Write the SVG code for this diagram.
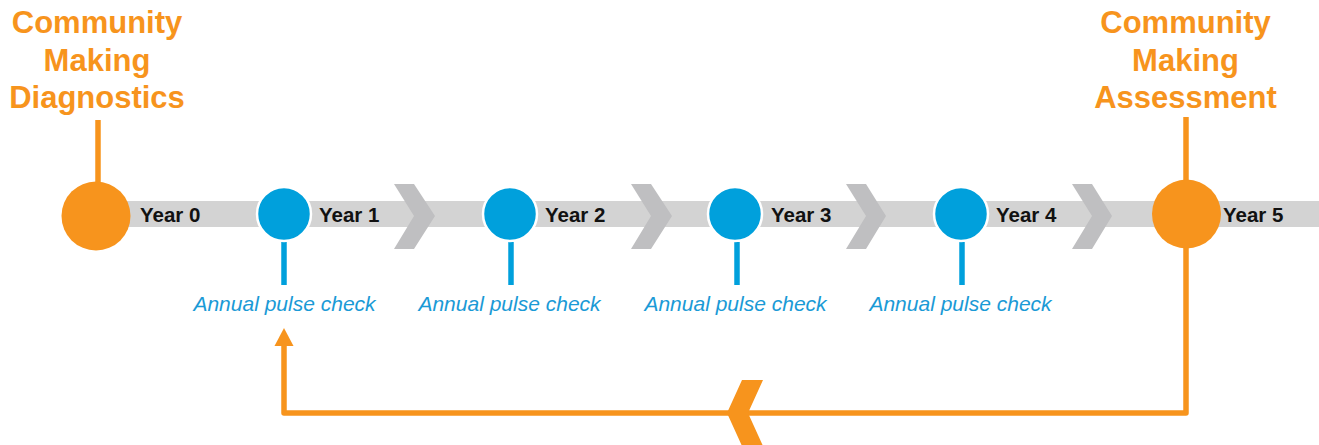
<svg xmlns="http://www.w3.org/2000/svg" width="1319" height="445" viewBox="0 0 1319 445">
<defs>
<style>
.head{font-family:"Liberation Sans",Arial,sans-serif;font-weight:bold;font-size:31px;fill:#f7941d;text-anchor:middle}
.year{font-family:"Liberation Sans",Arial,sans-serif;font-weight:bold;font-size:20.5px;fill:#111}
.pulse{font-family:"Liberation Sans",Arial,sans-serif;font-style:italic;font-size:21px;fill:#1a9ad6;text-anchor:middle}
.chev{fill:#bfbfc1}
.blue{fill:#00a0dc;stroke:#fff;stroke-width:2.5}
.bline{stroke:#00a0dc;stroke-width:5.5}
.orange{fill:#f7941d}
.oline{stroke:#f7941d;stroke-width:5.5;fill:none}
</style>
</defs>
<rect id="bar" x="110" y="201" width="1209" height="26" fill="#d3d3d3"/>
<g id="chevrons">
<polygon class="chev" points="394,184 414,184 435,216 414,249 394,249 414,216"/>
<polygon class="chev" points="631,184 651,184 672,216 651,249 631,249 651,216"/>
<polygon class="chev" points="846,184 866,184 886,216 866,249 846,249 866,216"/>
<polygon class="chev" points="1072,184 1092,184 1112,216 1092,249 1072,249 1092,216"/>
</g>
<g id="connectors">
<line class="oline" x1="98" y1="120" x2="98" y2="186"/>
<line class="oline" x1="1186" y1="117" x2="1186" y2="184"/>
<polyline class="oline" points="1186,244 1186,413 284,413 284,346" stroke-linejoin="round"/>
<polygon class="orange" points="742,380 763,380 748,413 763,446 742,446 727,413"/>
<polygon class="orange" points="284,328 293.5,346 274.5,346"/>
<line class="bline" x1="284" y1="242" x2="284" y2="285"/>
<line class="bline" x1="511" y1="242" x2="511" y2="285"/>
<line class="bline" x1="737" y1="242" x2="737" y2="285"/>
<line class="bline" x1="962" y1="242" x2="962" y2="285"/>
</g>
<g id="diagnostics">
<circle class="orange" cx="96" cy="216" r="34.5"/>
<text class="head" x="97" y="33">Community</text>
<text class="head" x="97" y="71">Making</text>
<text class="head" x="97" y="108">Diagnostics</text>
</g>
<g id="year0"><text class="year" x="140" y="222">Year 0</text></g>
<g id="year1">
<circle class="blue" cx="284" cy="214" r="27"/>
<text class="year" x="319" y="222">Year 1</text>
<text class="pulse" x="284.5" y="311">Annual pulse check</text>
</g>
<g id="year2">
<circle class="blue" cx="510" cy="214" r="27"/>
<text class="year" x="545" y="222">Year 2</text>
<text class="pulse" x="509.5" y="311">Annual pulse check</text>
</g>
<g id="year3">
<circle class="blue" cx="735" cy="214" r="27"/>
<text class="year" x="771" y="222">Year 3</text>
<text class="pulse" x="735.5" y="311">Annual pulse check</text>
</g>
<g id="year4">
<circle class="blue" cx="961" cy="214" r="27"/>
<text class="year" x="996" y="222">Year 4</text>
<text class="pulse" x="960.5" y="311">Annual pulse check</text>
</g>
<g id="assessment">
<circle class="orange" cx="1186.5" cy="214" r="34.5"/>
<text class="year" x="1223" y="222">Year 5</text>
<text class="head" x="1185.5" y="33">Community</text>
<text class="head" x="1185.5" y="71">Making</text>
<text class="head" x="1185.5" y="108">Assessment</text>
</g>
</svg>
